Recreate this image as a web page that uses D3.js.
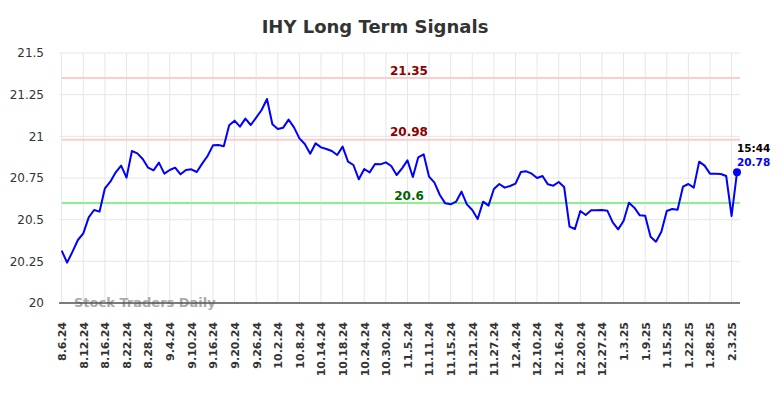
<!DOCTYPE html>
<html>
<head>
<meta charset="utf-8">
<script src="https://cdn.jsdelivr.net/npm/d3@7"></script>
<style>
  body { margin: 0; background: #fff; }
  svg { display: block; font-family: "DejaVu Sans", sans-serif; }
</style>
</head>
<body>
<div id="chart"></div>
<script>
// closing prices, one per trading day, last one is the intraday 15:44 quote
var prices = [
  20.314, 20.242, 20.308, 20.378, 20.418, 20.514, 20.558, 20.548, 20.688, 20.728,
  20.784, 20.824, 20.752, 20.912, 20.898, 20.864, 20.812, 20.796, 20.842, 20.776,
  20.798, 20.812, 20.772, 20.798, 20.802, 20.786, 20.836, 20.882, 20.946, 20.948,
  20.940, 21.066, 21.094, 21.058, 21.106, 21.068, 21.112, 21.158, 21.224, 21.072,
  21.044, 21.052, 21.100, 21.054, 20.988, 20.954, 20.896, 20.958, 20.934, 20.924,
  20.912, 20.888, 20.938, 20.848, 20.828, 20.742, 20.804, 20.784, 20.834, 20.832,
  20.844, 20.822, 20.768, 20.808, 20.856, 20.756, 20.874, 20.892, 20.758, 20.722,
  20.648, 20.598, 20.592, 20.608, 20.668, 20.592, 20.558, 20.504, 20.608, 20.584,
  20.684, 20.714, 20.692, 20.702, 20.716, 20.786, 20.790, 20.776, 20.750, 20.762,
  20.712, 20.704, 20.726, 20.696, 20.458, 20.444, 20.552, 20.528, 20.556, 20.556,
  20.558, 20.554, 20.484, 20.442, 20.492, 20.602, 20.572, 20.526, 20.524, 20.398,
  20.368, 20.428, 20.552, 20.564, 20.560, 20.698, 20.714, 20.692, 20.848, 20.824,
  20.776, 20.776, 20.774, 20.762, 20.522, 20.784
];

// a date label on every 4th point
var dateLabels = [
  "8.6.24", "8.12.24", "8.16.24", "8.22.24", "8.28.24", "9.4.24", "9.10.24", "9.16.24",
  "9.20.24", "9.26.24", "10.2.24", "10.8.24", "10.14.24", "10.18.24", "10.24.24", "10.30.24",
  "11.5.24", "11.11.24", "11.15.24", "11.21.24", "11.27.24", "12.4.24", "12.10.24", "12.16.24",
  "12.20.24", "12.27.24", "1.3.25", "1.9.25", "1.15.25", "1.22.25", "1.28.25", "2.3.25"
];
var labelEvery = 4;

var yTicks = [20, 20.25, 20.5, 20.75, 21, 21.25, 21.5];

var resistanceLevels = [21.35, 20.98];
var supportLevels = [20.6];

var lastTime = "15:44";
var lastLabel = "20.78";

var width = 784, height = 398;
var plotLeft = 61.7, plotRight = 740, plotTop = 53, plotBottom = 303;

var svg = d3.select("#chart").append("svg")
    .attr("width", width)
    .attr("height", height);

var x = d3.scaleLinear()
    .domain([0, prices.length - 1])
    .range([plotLeft, 737]);

var y = d3.scaleLinear()
    .domain([20, 21.5])
    .range([plotBottom, plotTop]);

var tickIdx = dateLabels.map(function(d, i) { return i * labelEvery; });

// grid
var grid = svg.append("g");
grid.selectAll(".hgrid").data(yTicks).enter().append("line")
    .attr("x1", 59).attr("x2", plotRight)
    .attr("y1", function(d) { return y(d); })
    .attr("y2", function(d) { return y(d); })
    .style("stroke", "#e6e6e6").style("stroke-width", 1);
grid.selectAll(".vgrid").data(tickIdx).enter().append("line")
    .attr("x1", function(d) { return x(d); })
    .attr("x2", function(d) { return x(d); })
    .attr("y1", plotTop).attr("y2", plotBottom)
    .style("stroke", "#e6e6e6").style("stroke-width", 1);

// title
svg.append("text")
    .attr("x", 375).attr("y", 33)
    .attr("text-anchor", "middle")
    .style("font-size", "18px").style("font-weight", "bold")
    .style("fill", "#333")
    .text("IHY Long Term Signals");

// y axis
var yAxis = svg.append("g")
    .attr("transform", "translate(" + 44 + ",0)")
    .call(d3.axisLeft(y).tickValues(yTicks).tickSize(0).tickPadding(0)
        .tickFormat(function(d) { return String(+d.toFixed(2)); }));
yAxis.select(".domain").remove();
yAxis.selectAll("text")
    .style("font-size", "12px").style("fill", "#333")
    .style("font-family", "DejaVu Sans, sans-serif");

// signal lines
function level(v, lineColor, textColor) {
    svg.append("line")
        .attr("x1", plotLeft).attr("x2", plotRight)
        .attr("y1", y(v)).attr("y2", y(v))
        .style("stroke", lineColor).style("stroke-width", 2);
    svg.append("text")
        .attr("x", 409).attr("y", y(v) - 3.5)
        .attr("text-anchor", "middle")
        .style("font-size", "12px").style("font-weight", "bold")
        .style("fill", textColor)
        .text(String(v));
}
resistanceLevels.forEach(function(v) { level(v, "#ffcccc", "#8b0000"); });
supportLevels.forEach(function(v) { level(v, "#90ee90", "#006400"); });

// watermark
svg.append("text")
    .attr("x", 74).attr("y", 307)
    .style("font-size", "13px").style("font-weight", "bold")
    .style("fill", "#aaa")
    .text("Stock Traders Daily");

// x axis
var xAxis = svg.append("g")
    .attr("transform", "translate(0," + plotBottom + ")")
    .call(d3.axisBottom(x).tickValues(tickIdx).tickSize(0)
        .tickFormat(function(d) { return dateLabels[d / labelEvery]; }));
xAxis.select(".domain").remove();
xAxis.selectAll("text")
    .attr("transform", "rotate(-90)")
    .attr("x", -19).attr("y", 0).attr("dy", "0.35em")
    .attr("text-anchor", "end")
    .style("font-size", "11px").style("font-weight", "bold")
    .style("fill", "#333")
    .style("font-family", "DejaVu Sans, sans-serif");
svg.append("line")
    .attr("x1", 59).attr("x2", plotRight)
    .attr("y1", plotBottom).attr("y2", plotBottom)
    .style("stroke", "#555").style("stroke-width", 1.5);

// price line
var line = d3.line()
    .x(function(d, i) { return x(i); })
    .y(function(d) { return y(d); });
svg.append("path")
    .datum(prices)
    .attr("d", line)
    .style("fill", "none")
    .style("stroke", "#0000ff")
    .style("stroke-width", 2)
    .style("stroke-linejoin", "round");

// last quote
var lastI = prices.length - 1;
svg.append("circle")
    .attr("cx", x(lastI)).attr("cy", y(prices[lastI]))
    .attr("r", 4)
    .style("fill", "#0000ff");
svg.append("text")
    .attr("x", x(lastI)).attr("y", 152)
    .style("font-size", "10.5px").style("font-weight", "bold")
    .style("fill", "#000")
    .text(lastTime);
svg.append("text")
    .attr("x", x(lastI)).attr("y", 166)
    .style("font-size", "10.5px").style("font-weight", "bold")
    .style("fill", "#0000ff")
    .text(lastLabel);
</script>
</body>
</html>
